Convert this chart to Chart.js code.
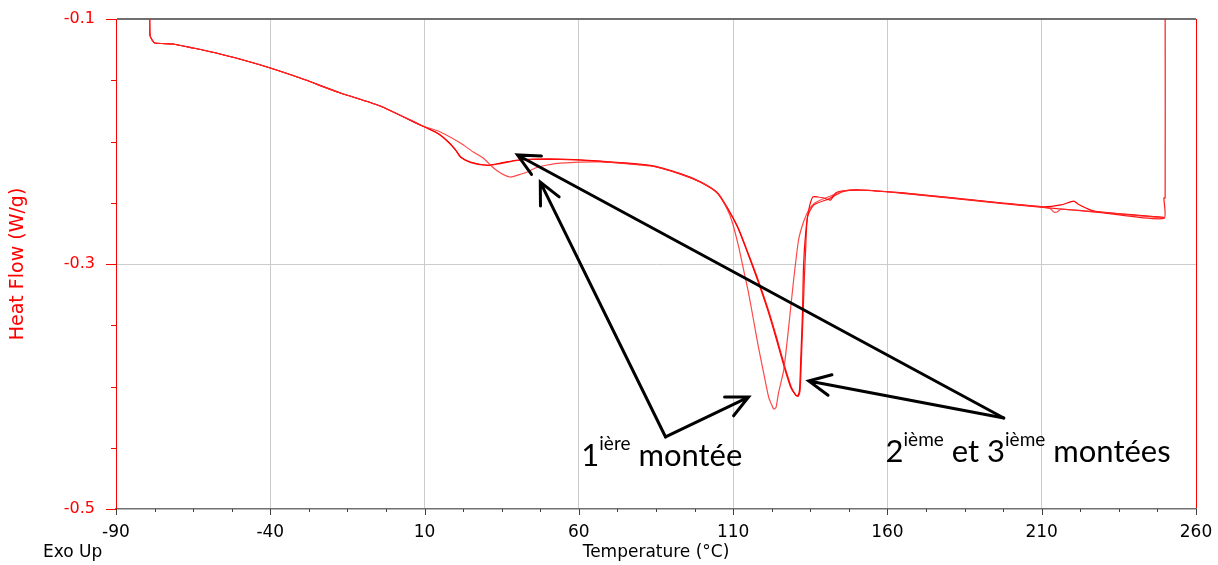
<!DOCTYPE html>
<html>
<head>
<meta charset="utf-8">
<script src="https://cdn.jsdelivr.net/npm/chart.js@4.4.0/dist/chart.umd.min.js"></script>
<style>
  html, body { margin: 0; padding: 0; background: #fff; }
  canvas { display: block; }
</style>
</head>
<body>
<canvas id="dscChart" width="1218" height="565"></canvas>
<script>
// tick values shown on the axes
var xMajorTicks = [-90, -40, 10, 60, 110, 160, 210, 260];
var yMajorTicks = [-0.1, -0.3, -0.5];

// shared start of every heating run (Temperature °C / Heat Flow W/g)
var startTemp = [-79.1, -79.0, -78.3, -77.4, -71.5, -65.0, -56.3, -46.5, -40.0, -30.3, -17.3, -4.4, 8.6];
var startFlow = [-0.09, -0.113, -0.1171, -0.1196, -0.1204, -0.1237, -0.1286, -0.1351, -0.1400, -0.1482, -0.1604, -0.1710, -0.1865];

// 1st heating
var run1Temp = [15.1, 21.6, 25.8, 29.0, 32.0, 34.6, 37.8, 40.4, 43.3, 45.9, 49.8, 54.0, 67.0, 83.2, 92.9, 99.4,
  104.9, 108.2, 109.8, 111.8, 113.4, 115.0, 116.6, 118.2, 119.9, 121.5, 122.5, 123.2, 123.9, 124.7, 126.4, 128.0,
  129.6, 131.2, 132.8, 134.5, 136.1, 138.3, 141.6, 145.5, 151.3, 164.3, 196.7, 210.4, 212.8, 213.9, 215.0, 216.2,
  229.2, 249.6];
var run1Flow = [-0.1922, -0.2012, -0.2086, -0.2135, -0.2208, -0.2257, -0.2290, -0.2273, -0.2249, -0.2216, -0.2192,
  -0.2176, -0.2167, -0.2200, -0.2265, -0.2331, -0.2420, -0.2559, -0.2665, -0.2861, -0.3049, -0.3237, -0.3457,
  -0.3678, -0.3890, -0.4086, -0.4150, -0.4184, -0.4170, -0.4053, -0.3865, -0.3514, -0.3131, -0.2804, -0.2657,
  -0.2559, -0.2510, -0.2478, -0.2445, -0.2404, -0.2396, -0.2420, -0.2502, -0.2535, -0.2548, -0.2576, -0.2576,
  -0.2552, -0.2577, -0.2624];

// 2nd heating
var run2Temp = [14.1, 17.7, 20.0, 21.6, 24.8, 30.3, 34.6, 40.1, 45.3, 54.0, 67.0, 83.2, 92.9, 99.4, 104.9, 108.2,
  111.4, 114.7, 117.9, 121.2, 123.8, 125.4, 127.0, 128.6, 130.2, 130.9, 131.5, 131.9, 132.5, 132.8, 133.5, 134.5,
  135.8, 137.4, 139.3, 141.6, 143.2, 145.5, 151.3, 164.3, 196.7, 210.4, 216.2, 220.4, 221.7, 225.9, 229.2, 249.6];
var run2Flow = [-0.1931, -0.2004, -0.2069, -0.2127, -0.2167, -0.2192, -0.2176, -0.2151, -0.2143, -0.2143, -0.2160,
  -0.2195, -0.2262, -0.2328, -0.2417, -0.2543, -0.2698, -0.2910, -0.3131, -0.3376, -0.3596, -0.3740, -0.3880,
  -0.4004, -0.4069, -0.4078, -0.4030, -0.3784, -0.3376, -0.3024, -0.2747, -0.2559, -0.2453, -0.2453, -0.2461,
  -0.2478, -0.2420, -0.2404, -0.2396, -0.2418, -0.2500, -0.2533, -0.2518, -0.2486, -0.2510, -0.2560, -0.2577,
  -0.2620];

// 3rd heating, ends with the jump at 250 °C
var run3Temp = [14.3, 17.9, 20.2, 21.9, 25.0, 30.3, 34.6, 40.1, 45.3, 54.0, 67.0, 83.2, 92.9, 99.4, 104.9, 108.2,
  111.6, 114.9, 118.2, 121.5, 124.1, 125.7, 127.3, 128.9, 130.4, 131.1, 131.7, 132.1, 132.7, 133.1, 133.5, 134.1,
  136.1, 140.9, 145.5, 151.3, 164.3, 196.7, 210.4, 229.2, 249.6, 249.6, 250.0, 250.0];
var run3Flow = [-0.1935, -0.2008, -0.2073, -0.2131, -0.2172, -0.2196, -0.2180, -0.2155, -0.2147, -0.2147, -0.2163,
  -0.2198, -0.2266, -0.2333, -0.2422, -0.2548, -0.2703, -0.2915, -0.3136, -0.3381, -0.3600, -0.3745, -0.3885,
  -0.4008, -0.4072, -0.4080, -0.4035, -0.3790, -0.3390, -0.3100, -0.2880, -0.2616, -0.2518, -0.2469, -0.2410,
  -0.2398, -0.2422, -0.2505, -0.2538, -0.2580, -0.2628, -0.2461, -0.2461, -0.09];

function toPoints(temps, flows) {
  var pts = [];
  for (var i = 0; i < temps.length; i++) {
    pts.push({ x: temps[i], y: flows[i] });
  }
  return pts;
}

function isMajor(list, v) {
  for (var i = 0; i < list.length; i++) {
    if (Math.abs(list[i] - v) < 1e-6) return true;
  }
  return false;
}

function drawArrow(ctx, x1, y1, x2, y2) {
  var ang = Math.atan2(y2 - y1, x2 - x1), head = 24, spread = Math.PI / 7;
  ctx.beginPath();
  ctx.moveTo(x1, y1);
  ctx.lineTo(x2, y2);
  ctx.moveTo(x2 - head * Math.cos(ang - spread), y2 - head * Math.sin(ang - spread));
  ctx.lineTo(x2, y2);
  ctx.lineTo(x2 - head * Math.cos(ang + spread), y2 - head * Math.sin(ang + spread));
  ctx.stroke();
}

function drawRichText(ctx, x, y, parts) {
  ctx.textAlign = 'left';
  ctx.textBaseline = 'alphabetic';
  parts.forEach(function (p) {
    ctx.font = p.sup ? '19px Lato' : '31px Lato';
    ctx.fillText(p.t, x, p.sup ? y - 16 : y);
    x += ctx.measureText(p.t).width;
  });
}

// arrows and labels, placed in data units
var annotationPlugin = {
  id: 'dscAnnotations',
  afterDraw: function (chart) {
    var ctx = chart.ctx, xs = chart.scales.x, ys = chart.scales.y, area = chart.chartArea;
    var arrows = [
      [88.1, -0.4412, 47.5, -0.2331],
      [88.1, -0.4412, 115.0, -0.4086],
      [197.7, -0.4257, 40.1, -0.2110],
      [197.7, -0.4257, 134.5, -0.3955]
    ];

    ctx.save();
    // tick marks
    ctx.lineWidth = 1;
    ctx.strokeStyle = '#404040';
    xs.ticks.forEach(function (t) {
      var px = Math.round(xs.getPixelForValue(t.value)) + 0.5;
      var len = isMajor(xMajorTicks, t.value) ? 6 : 3;
      ctx.beginPath();
      ctx.moveTo(px, area.bottom);
      ctx.lineTo(px, area.bottom + len);
      ctx.stroke();
    });
    ctx.strokeStyle = '#ff0000';
    ys.ticks.forEach(function (t) {
      var py = Math.round(ys.getPixelForValue(t.value)) + 0.5;
      var len = isMajor(yMajorTicks, t.value) ? 10 : 5;
      ctx.beginPath();
      ctx.moveTo(area.left - len, py);
      ctx.lineTo(area.left, py);
      ctx.stroke();
    });

    ctx.fillStyle = '#000';
    ctx.font = '17px "DejaVu Sans"';
    ctx.textBaseline = 'middle';
    ctx.fillText('Exo Up', 43, 553);

    ctx.strokeStyle = '#000';
    ctx.lineWidth = 3;
    ctx.lineCap = 'round';
    arrows.forEach(function (a) {
      drawArrow(ctx, xs.getPixelForValue(a[0]), ys.getPixelForValue(a[1]),
        xs.getPixelForValue(a[2]), ys.getPixelForValue(a[3]));
    });

    drawRichText(ctx, xs.getPixelForValue(60.8), ys.getPixelForValue(-0.4649), [
      { t: '1' }, { t: 'ière', sup: true }, { t: ' montée' }
    ]);
    drawRichText(ctx, xs.getPixelForValue(159.4), ys.getPixelForValue(-0.4616), [
      { t: '2' }, { t: 'ième', sup: true }, { t: ' et 3' }, { t: 'ième', sup: true }, { t: ' montées' }
    ]);
    ctx.restore();
  }
};

Chart.defaults.font.family = '"DejaVu Sans", sans-serif';

var runStyle = function (pts, color) {
  return {
    data: pts,
    borderColor: color,
    borderWidth: 1.2,
    pointRadius: 0,
    tension: 0.2,
    fill: false
  };
};

new Chart(document.getElementById('dscChart'), {
  type: 'line',
  data: {
    datasets: [
      runStyle(toPoints(startTemp.concat(run1Temp), startFlow.concat(run1Flow)), 'rgba(255, 40, 40, 0.85)'),
      runStyle(toPoints(startTemp.concat(run2Temp), startFlow.concat(run2Flow)), '#ff0000'),
      runStyle(toPoints(startTemp.concat(run3Temp), startFlow.concat(run3Flow)), 'rgba(255, 0, 0, 0.9)')
    ]
  },
  options: {
    responsive: false,
    devicePixelRatio: 1,
    animation: false,
    layout: { padding: { top: 19, right: 22, left: 0, bottom: 0 } },
    plugins: {
      legend: { display: false },
      tooltip: { enabled: false }
    },
    scales: {
      x: {
        type: 'linear',
        min: -90,
        max: 260,
        afterFit: function (scale) {
          scale.height = 56;
          scale.paddingLeft = 0;
          scale.paddingRight = 0;
        },
        border: { color: '#707070', width: 1.5 },
        grid: {
          drawTicks: false,
          color: function (c) {
            if (!c.tick) return 'transparent';
            if (Math.abs(c.tick.value - 260) < 1e-6) return '#ff0000';
            if (Math.abs(c.tick.value + 90) < 1e-6) return 'transparent';
            return isMajor(xMajorTicks, c.tick.value) ? '#cccccc' : 'transparent';
          }
        },
        ticks: {
          stepSize: 12.5,
          autoSkip: false,
          maxRotation: 0,
          padding: 13,
          color: '#000',
          font: { size: 17 },
          callback: function (v) { return isMajor(xMajorTicks, v) ? String(Math.round(v)) : ''; }
        },
        title: {
          display: true,
          text: 'Temperature (°C)',
          color: '#000',
          font: { size: 17 },
          padding: { top: 0, bottom: 2 }
        }
      },
      y: {
        min: -0.5,
        max: -0.1,
        afterFit: function (scale) {
          scale.width = 116;
          scale.paddingTop = 0;
          scale.paddingBottom = 0;
        },
        border: { color: '#ff0000', width: 1 },
        grid: {
          drawTicks: false,
          color: function (c) {
            if (!c.tick) return 'transparent';
            if (Math.abs(c.tick.value + 0.1) < 1e-6) return '#707070';
            if (Math.abs(c.tick.value + 0.3) < 1e-6) return '#cccccc';
            return 'transparent';
          },
          lineWidth: function (c) {
            return c.tick && Math.abs(c.tick.value + 0.1) < 1e-6 ? 2 : 1;
          }
        },
        ticks: {
          stepSize: 0.05,
          autoSkip: false,
          padding: 21,
          color: '#ff0000',
          font: { size: 16 },
          callback: function (v) { return isMajor(yMajorTicks, v) ? v.toFixed(1) : ''; }
        },
        title: {
          display: true,
          text: 'Heat Flow (W/g)',
          color: '#ff0000',
          font: { size: 19 },
          padding: { top: 7, bottom: 0 }
        }
      }
    }
  },
  plugins: [annotationPlugin]
});
</script>
</body>
</html>
